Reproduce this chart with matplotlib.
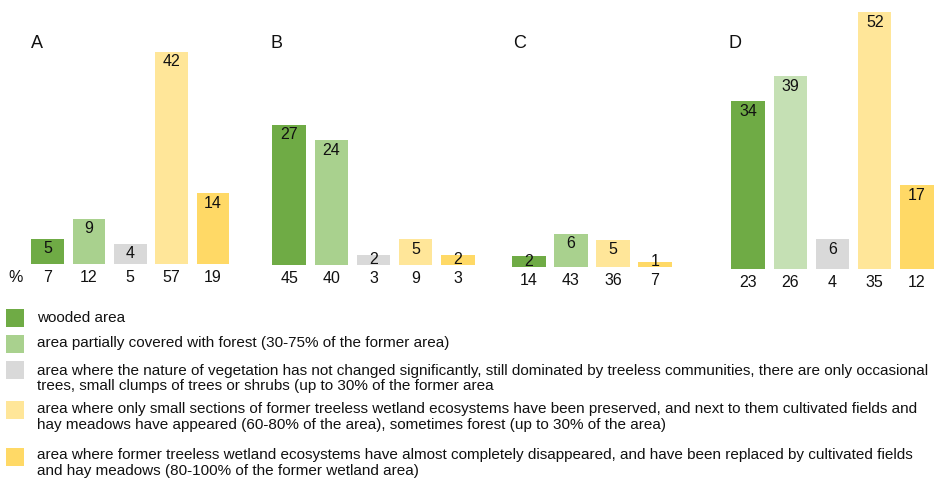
import matplotlib
matplotlib.use("Agg")
import matplotlib.pyplot as plt
from matplotlib.patches import Rectangle

# ----------------------------------------------------------
# Data (area inside bars, share in % below)
# ----------------------------------------------------------
panels = ["A", "B", "C", "D"]

a_values = [5, 9, 4, 42, 14]
a_pct = [7, 12, 5, 57, 19]
b_values = [27, 24, 2, 5, 2]
b_pct = [45, 40, 3, 9, 3]
c_values = [2, 6, 5, 1]
c_pct = [14, 43, 36, 7]
d_values = [34, 39, 6, 52, 17]
d_pct = [23, 26, 4, 35, 12]

legend_labels = [
    "wooded area",
    "area partially covered with forest (30-75% of the former area)",
    "area where the nature of vegetation has not changed significantly, still dominated by treeless communities, there are only occasional\n"
    "trees, small clumps of trees or shrubs (up to 30% of the former area",
    "area where only small sections of former treeless wetland ecosystems have been preserved, and next to them cultivated fields and\n"
    "hay meadows have appeared (60-80% of the area), sometimes forest (up to 30% of the area)",
    "area where former treeless wetland ecosystems have almost completely disappeared, and have been replaced by cultivated fields\n"
    "and hay meadows (80-100% of the former wetland area)",
]

# colours
dark_green = "#6FAB45"
light_green = "#A9D18E"
pale_green = "#C5E0B4"
grey = "#D9D9D9"
light_yellow = "#FFE699"
gold = "#FFD966"

a_colors = [dark_green, light_green, grey, light_yellow, gold]
b_colors = [dark_green, light_green, grey, light_yellow, gold]
c_colors = [dark_green, light_green, light_yellow, gold]
d_colors = [dark_green, pale_green, grey, light_yellow, gold]
legend_colors = [dark_green, light_green, grey, light_yellow, gold]

# ----------------------------------------------------------
# Figure
# ----------------------------------------------------------
W, H = 951, 480
fig = plt.figure(figsize=(W / 100, H / 100), dpi=100)
num_font = "Liberation Sans"
ink = "#111111"

# per panel layout in pixels: left edge, bar pitch, baseline, px per unit, letter x
layout = {
    "A": (27, 41.3, 264, 5.05, 31),
    "B": (268, 42.2, 265, 5.2, 270),
    "C": (508, 42.0, 267, 5.5, 513),
    "D": (727, 42.2, 269, 4.94, 728),
}
series = {
    "A": (a_values, a_pct, a_colors),
    "B": (b_values, b_pct, b_colors),
    "C": (c_values, c_pct, c_colors),
    "D": (d_values, d_pct, d_colors),
}

for name in panels:
    values, pct, colors = series[name]
    left, pitch, base, scale, letter_x = layout[name]
    n = len(values)
    ax = fig.add_axes([left / W, 1 - base / H, n * pitch / W, base / H])
    x = list(range(n))
    ax.bar(x, values, width=0.79, color=colors, linewidth=0)
    ax.set_xlim(-0.5, n - 0.5)
    ax.set_ylim(0, base / scale)
    ax.axis("off")

    for i, v in enumerate(values):
        # label ~10 px under bar top, never lower than 5.5 px above the base
        y = max(v - 10 / scale, 5.5 / scale)
        ax.text(i, y, str(v), ha="center", va="center",
                fontsize=11.5, family=num_font, color=ink)
        ax.annotate(str(pct[i]), xy=(i, 0), xytext=(0, -10),
                    textcoords="offset points", ha="center", va="center",
                    fontsize=11.5, family=num_font, color=ink,
                    annotation_clip=False)

    fig.text(letter_x / W, 1 - 43 / H, name,
             ha="left", va="center", fontsize=13, family=num_font, color=ink)

fig.text(16 / W, 1 - 278 / H, "%", ha="center", va="center",
         fontsize=11.5, family=num_font, color=ink)

# ----------------------------------------------------------
# Legend
# ----------------------------------------------------------
patch_tops = [309, 335, 361, 401, 448]
text_y = [318, 343, 378.5, 417, 463]
for col, top, ty, lab in zip(legend_colors, patch_tops, text_y, legend_labels):
    fig.patches.append(Rectangle((6 / W, 1 - (top + 18) / H), 18 / W, 18 / H,
                                 transform=fig.transFigure, color=col,
                                 linewidth=0))
    fig.text(37 / W, 1 - ty / H, lab, ha="left", va="center",
             fontsize=11, family=num_font, color=ink, linespacing=1.15)

fig.savefig("out.png", dpi=100, facecolor="white")
